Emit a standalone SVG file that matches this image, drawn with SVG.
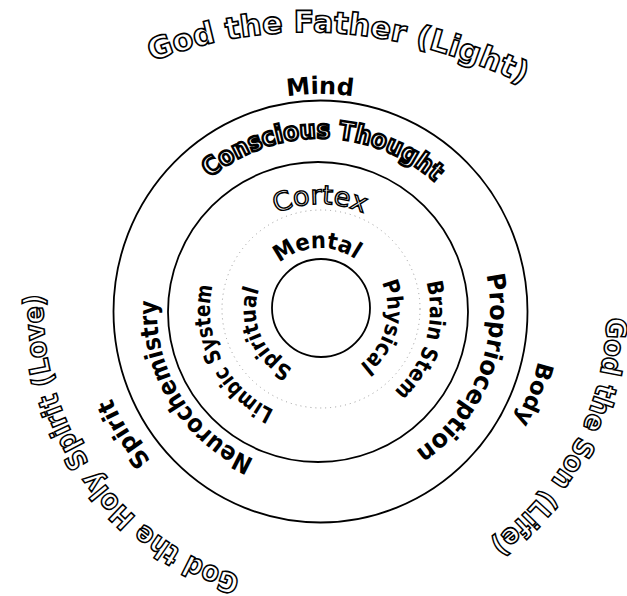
<svg xmlns="http://www.w3.org/2000/svg" xmlns:xlink="http://www.w3.org/1999/xlink" width="627" height="596" viewBox="0 0 627 596">
<style>
  text { font-family: "DejaVu Sans", "Open Sans", sans-serif; }
  .ring { fill: none; stroke: #000; stroke-width: 1.8; }
  .dot { fill: none; stroke: #999; stroke-width: 1; stroke-dasharray: 1 4; }
  .god { font-weight: bold; fill: #fff; stroke: #000; stroke-width: 1.6; }
  .outl { fill: #fff; stroke: #000; stroke-width: 1.4; }
  .heavy { font-weight: bold; fill: #fff; stroke: #000; stroke-width: 2.6; }
  .solid { fill: #000; font-weight: bold; }
  .bold { fill: #000; font-weight: bold; }
</style>
<defs>
  <path id="pFather" d="M150,62 Q330,-7.5 525,85"/>
  <path id="pSon" d="M494.7,83.3 A287,287 0 0 1 233.7,584.7"/>
  <path id="pHoly" d="M478,540.9 A279,279 0 0 1 158,83.9"/>
  <path id="pMind" d="M132.9,202 A216,216 0 0 1 507.1,202"/>
  <path id="pBody" d="M437,119 A224,224 0 0 1 275.3,529.5"/>
  <path id="pSpirit" d="M405.8,519.1 A226,226 0 0 1 167.9,142.8"/>
  <path id="pConscious" d="M151.2,277.2 A172,172 0 0 1 489.9,283.1"/>
  <path id="pProprio" d="M410.1,165.8 A170,170 0 0 1 284.7,476.3"/>
  <path id="pNeuro" d="M379.7,461.7 A163,163 0 0 1 212,187.9"/>
  <path id="pCortex" d="M215.6,291.6 A106,106 0 0 1 424.4,291.6"/>
  <path id="pBrain" d="M369.1,211.6 A110,110 0 0 1 307.5,419.3"/>
  <path id="pLimbic" d="M350.9,415.6 A110,110 0 0 1 254.9,221.4"/>
  <path id="pMental" d="M258.5,302.4 A62,62 0 0 1 380.4,296.1"/>
  <path id="pPhysical" d="M348.5,248.4 A68,68 0 0 1 314.1,377.7"/>
  <path id="pSpiritual" d="M334.4,372.4 A64,64 0 0 1 285.1,256.3"/>
</defs>

<g id="rings">
  <ellipse id="outer-ring" class="ring" cx="320.5" cy="311.5" rx="207" ry="211"/>
  <circle id="middle-ring" class="ring" cx="318" cy="312" r="150"/>
  <circle id="dotted-ring" class="dot" cx="321" cy="309" r="99"/>
  <circle id="inner-ring" class="ring" cx="321" cy="308" r="49"/>
</g>

<g id="outer-labels">
  <text id="father" class="god" font-size="30"><textPath xlink:href="#pFather" href="#pFather" startOffset="50%" text-anchor="middle" textLength="383" lengthAdjust="spacingAndGlyphs">God the Father (Light)</textPath></text>
  <text id="son" class="god" font-size="28"><textPath xlink:href="#pSon" href="#pSon" startOffset="50%" text-anchor="middle" textLength="263" lengthAdjust="spacingAndGlyphs">God the Son (Life)</textPath></text>
  <text id="holy" class="god" font-size="28"><textPath xlink:href="#pHoly" href="#pHoly" startOffset="50%" text-anchor="middle" textLength="370" lengthAdjust="spacingAndGlyphs">God the Holy Spirit (Love)</textPath></text>
</g>

<g id="aspects">
  <text id="mind" class="bold" font-size="24"><textPath xlink:href="#pMind" href="#pMind" startOffset="50%" text-anchor="middle">Mind</textPath></text>
  <text id="body" class="bold" font-size="23"><textPath xlink:href="#pBody" href="#pBody" startOffset="50%" text-anchor="middle">Body</textPath></text>
  <text id="spirit" class="bold" font-size="24"><textPath xlink:href="#pSpirit" href="#pSpirit" startOffset="50%" text-anchor="middle">Spirit</textPath></text>
</g>

<g id="band-outer">
  <text id="conscious" class="heavy" font-size="25"><textPath xlink:href="#pConscious" href="#pConscious" startOffset="50%" text-anchor="middle" textLength="245" lengthAdjust="spacingAndGlyphs">Conscious Thought</textPath></text>
  <text id="proprio" class="solid" font-size="25"><textPath xlink:href="#pProprio" href="#pProprio" startOffset="50%" text-anchor="middle" textLength="202" lengthAdjust="spacingAndGlyphs">Proprioception</textPath></text>
  <text id="neuro" class="solid" font-size="25"><textPath xlink:href="#pNeuro" href="#pNeuro" startOffset="50%" text-anchor="middle" textLength="198" lengthAdjust="spacingAndGlyphs">Neurochemistry</textPath></text>
</g>

<g id="band-middle">
  <text id="cortex" class="outl" font-size="26"><textPath xlink:href="#pCortex" href="#pCortex" startOffset="50%" text-anchor="middle" textLength="90" lengthAdjust="spacingAndGlyphs">Cortex</textPath></text>
  <text id="brainstem" class="solid" font-size="22"><textPath xlink:href="#pBrain" href="#pBrain" startOffset="50%" text-anchor="middle" textLength="120" lengthAdjust="spacingAndGlyphs">Brain Stem</textPath></text>
  <text id="limbic" class="solid" font-size="22"><textPath xlink:href="#pLimbic" href="#pLimbic" startOffset="50%" text-anchor="middle" textLength="150" lengthAdjust="spacingAndGlyphs">Limbic System</textPath></text>
</g>

<g id="band-inner">
  <text id="mental" class="bold" font-size="23"><textPath xlink:href="#pMental" href="#pMental" startOffset="50%" text-anchor="middle" textLength="82" lengthAdjust="spacingAndGlyphs">Mental</textPath></text>
  <text id="physical" class="bold" font-size="22"><textPath xlink:href="#pPhysical" href="#pPhysical" startOffset="50%" text-anchor="middle" textLength="92" lengthAdjust="spacingAndGlyphs">Physical</textPath></text>
  <text id="spiritual" class="bold" font-size="22"><textPath xlink:href="#pSpiritual" href="#pSpiritual" startOffset="50%" text-anchor="middle" textLength="94" lengthAdjust="spacingAndGlyphs">Spiritual</textPath></text>
</g>
</svg>
